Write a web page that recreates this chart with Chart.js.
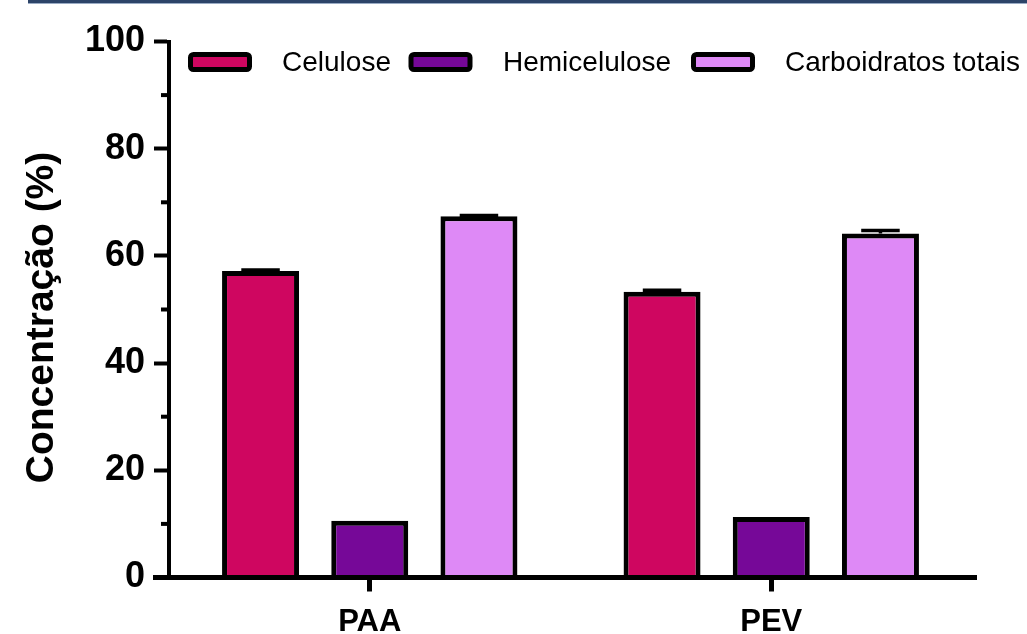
<!DOCTYPE html>
<html><head><meta charset="utf-8">
<script src="https://cdn.jsdelivr.net/npm/chart.js@4"></script>
<style>html,body{margin:0;padding:0;background:#fff;overflow:hidden}canvas{display:block}</style>
</head><body>
<canvas id="c" width="1027" height="634"></canvas>
<script>
const categories = ['PAA', 'PEV'];
const seriesNames = ['Celulose', 'Hemicelulose', 'Carboidratos totais'];
const celulose = [57.2, 53.3];
const hemicelulose = [10.6, 11.3];
const carboidratos = [67.4, 64.2];
const celuloseErr = [0.15, 0.3];
const hemiceluloseErr = [0, 0];
const carboidratosErr = [0.15, 0.55];
const seriesColors = ['#cf0660', '#760898', '#de89f6'];
const yTickLabels = [0, 20, 40, 60, 80, 100];
const yMinorTicks = [10, 30, 50, 70, 90];
const yTitle = 'Concentração (%)';

const FONT = '"Liberation Sans", Arial, Helvetica, sans-serif';
const seriesValues = [celulose, hemicelulose, carboidratos];
const seriesErrors = [celuloseErr, hemiceluloseErr, carboidratosErr];

const decor = {
  id: 'decor',
  beforeDraw(chart) {
    const ctx = chart.ctx;
    ctx.save();
    ctx.fillStyle = '#fff';
    ctx.fillRect(0, 0, chart.width, chart.height);
    ctx.fillStyle = '#2d4468';
    ctx.fillRect(28, 0, chart.width - 28, 3);
    ctx.fillStyle = '#9aabc4';
    ctx.fillRect(28, 3, chart.width - 28, 1);
    ctx.restore();
  },
  afterDatasetsDraw(chart) {
    const ctx = chart.ctx;
    const y = chart.scales.y;
    const a = chart.chartArea;
    ctx.save();
    ctx.strokeStyle = '#000';
    ctx.lineCap = 'butt';
    chart.data.datasets.forEach((ds, di) => {
      const meta = chart.getDatasetMeta(di);
      meta.data.forEach((bar, i) => {
        const e = seriesErrors[di][i];
        if (!e) return;
        const yTop = y.getPixelForValue(ds.data[i] + e);
        const half = bar.width / 4;
        ctx.lineWidth = 3.5;
        ctx.beginPath();
        ctx.moveTo(bar.x, bar.y); ctx.lineTo(bar.x, yTop);
        ctx.moveTo(bar.x - half, yTop); ctx.lineTo(bar.x + half, yTop);
        ctx.stroke();
      });
    });
    // minor y ticks
    ctx.lineWidth = 4;
    yMinorTicks.forEach(v => {
      const py = y.getPixelForValue(v);
      ctx.beginPath();
      ctx.moveTo(a.left - 8, py); ctx.lineTo(a.left, py);
      ctx.stroke();
    });
    // x axis line (extends past plot)
    ctx.fillStyle = '#000';
    ctx.fillRect(153, a.bottom - 2.5, 977 - 153, 5);
    ctx.restore();
  },
  afterDraw(chart) {
    const ctx = chart.ctx;
    ctx.save();
    // legend
    const boxes = [190.5, 411, 693.5];
    const texts = [282, 503, 785];
    ctx.font = '28px ' + FONT;
    ctx.textBaseline = 'middle';
    ctx.textAlign = 'left';
    chart.data.datasets.forEach((ds, i) => {
      const bx = boxes[i], by = 54.5, bw = 59, bh = 15;
      ctx.beginPath();
      ctx.roundRect(bx, by, bw, bh, 3);
      ctx.fillStyle = ds.backgroundColor;
      ctx.fill();
      ctx.lineWidth = 5;
      ctx.strokeStyle = '#000';
      ctx.stroke();
      ctx.fillStyle = '#000';
      ctx.fillText(ds.label, texts[i], 63);
    });
    // y title
    ctx.translate(42, 317.5);
    ctx.rotate(-Math.PI / 2);
    ctx.font = 'bold 39px ' + FONT;
    ctx.textAlign = 'center';
    ctx.textBaseline = 'middle';
    ctx.fillStyle = '#000';
    ctx.fillText(yTitle, 0, 0);
    ctx.restore();
  }
};

new Chart(document.getElementById('c'), {
  type: 'bar',
  data: {
    labels: categories,
    datasets: seriesNames.map((name, i) => ({
      label: name,
      data: seriesValues[i],
      backgroundColor: seriesColors[i],
      borderColor: '#000',
      borderWidth: 5,
      borderSkipped: 'start',
      categoryPercentage: 0.816,
      barPercentage: 0.705
    }))
  },
  options: {
    responsive: false,
    animation: false,
    devicePixelRatio: 1,
    layout: { padding: { top: 41.5, right: 55, left: 0, bottom: 0 } },
    plugins: { legend: { display: false }, tooltip: { enabled: false } },
    scales: {
      x: {
        afterFit(s) { s.height = 56.5; },
        grid: { display: true, drawOnChartArea: false, offset: false, tickLength: 14, tickWidth: 5, tickColor: '#000' },
        border: { display: false },
        ticks: { color: '#000', font: { family: FONT, size: 31, weight: 'bold' }, padding: 12 }
      },
      y: {
        min: 0, max: 100,
        afterFit(s) { s.width = 169; },
        grid: {
          display: true, drawOnChartArea: false, tickLength: 15, tickWidth: 4,
          tickColor: c => (c.tick && yTickLabels.includes(c.tick.value)) ? '#000' : 'rgba(0,0,0,0)'
        },
        border: { display: true, width: 4, color: '#000' },
        ticks: {
          stepSize: 10, autoSkip: false, color: '#000', padding: 9,
          font: { family: FONT, size: 36, weight: 'bold' },
          callback: v => yTickLabels.includes(v) ? String(v) : ''
        }
      }
    }
  },
  plugins: [decor]
});
</script>
</body></html>
